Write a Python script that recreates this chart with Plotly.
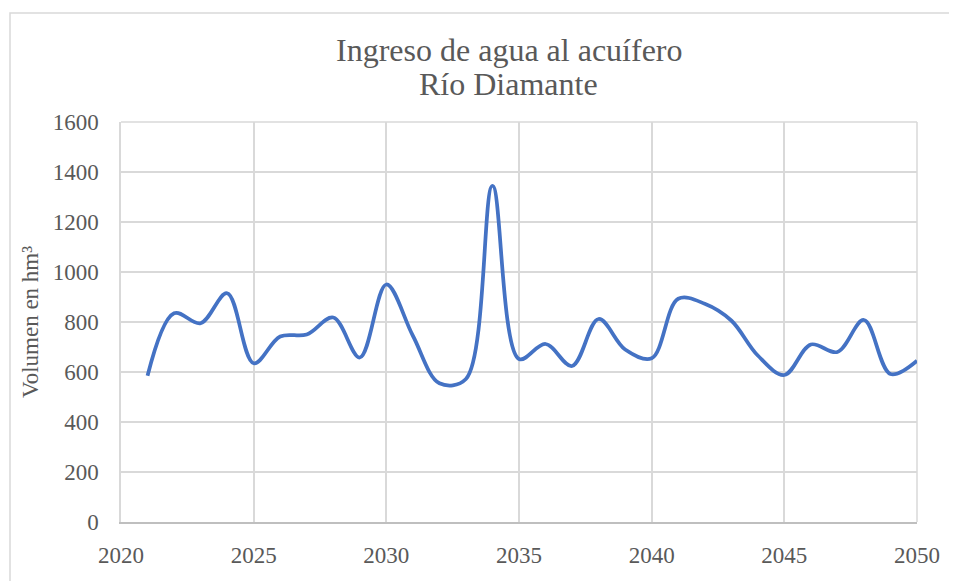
import plotly.graph_objects as go

years = list(range(2021, 2051))
volumen = [585, 835, 795, 915, 635, 742, 750, 818, 658, 950,
           745, 555, 572, 1345, 652, 712, 624, 812, 690, 655,
           893, 873, 806, 666, 588, 710, 680, 808, 592, 645]

title_line1 = "Ingreso de agua al acuífero"
title_line2 = "Río Diamante"
y_title = "Volumen en hm³"
x_ticks = [2020, 2025, 2030, 2035, 2040, 2045, 2050]
y_ticks = [0, 200, 400, 600, 800, 1000, 1200, 1400, 1600]

FONT = "Liberation Serif"
TXT = "#595959"

# page body has an 8px margin; compensate so the figure lands where the reference is
OFF = 8
W, H = 957 - OFF, 581 - OFF
L, T = 121 - OFF, 122 - OFF
R = W - (917 - OFF)
B = H - (522 - OFF)
pw, ph = W - L - R, H - T - B

def px_x(p):
    return (p - OFF - L) / pw

def px_y(p):
    return (H - B - (p - OFF)) / ph

fig = go.Figure()
fig.add_trace(go.Scatter(
    x=years, y=volumen, mode="lines",
    line=dict(color="#4472C4", width=3.75, shape="spline", smoothing=1.0),
    hoverinfo="x+y", showlegend=False,
))

fig.update_layout(
    width=W, height=H,
    margin=dict(l=L, r=R, t=T, b=B, pad=0),
    paper_bgcolor="white", plot_bgcolor="white",
    font=dict(family=FONT, color=TXT, size=23),
    xaxis=dict(
        range=[2020, 2050], tickvals=x_ticks, ticktext=[str(v) for v in x_ticks],
        showgrid=True, gridcolor="#d9d9d9", gridwidth=1.5,
        showline=True, linecolor="#bfbfbf", linewidth=1.5,
        zeroline=False, ticks="", ticklabelstandoff=12,
        tickfont=dict(family=FONT, size=23, color=TXT),
    ),
    yaxis=dict(
        range=[0, 1600], tickvals=y_ticks,
        showgrid=True, gridcolor="#d9d9d9", gridwidth=1.5,
        showline=True, linecolor="#d9d9d9", linewidth=1.5,
        zeroline=False, ticks="", ticklabelstandoff=16,
        tickfont=dict(family=FONT, size=23, color=TXT),
    ),
    shapes=[
        dict(type="rect", xref="paper", yref="paper",
             x0=px_x(10), y0=px_y(640), x1=px_x(1000), y1=px_y(13),
             line=dict(color="#d9d9d9", width=1.5), fillcolor="rgba(0,0,0,0)",
             layer="below"),
        dict(type="line", xref="paper", yref="paper", x0=1, x1=1, y0=0, y1=1,
             line=dict(color="#d9d9d9", width=1.5), layer="below"),
        dict(type="line", xref="paper", yref="paper", x0=0, x1=1, y0=1, y1=1,
             line=dict(color="#d9d9d9", width=1.5), layer="below"),
    ],
    annotations=[
        dict(text=title_line1, xref="paper", yref="paper",
             x=px_x(508.5), y=px_y(50), xanchor="center", yanchor="middle",
             showarrow=False, font=dict(family=FONT, size=32, color=TXT)),
        dict(text=title_line2, xref="paper", yref="paper",
             x=px_x(508.5), y=px_y(84), xanchor="center", yanchor="middle",
             showarrow=False, font=dict(family=FONT, size=32, color=TXT)),
        dict(text=y_title, xref="paper", yref="paper",
             x=px_x(30), y=0.5, xanchor="center", yanchor="middle",
             textangle=-90, showarrow=False,
             font=dict(family=FONT, size=23, color=TXT)),
    ],
)

fig.write_html("out.html")
